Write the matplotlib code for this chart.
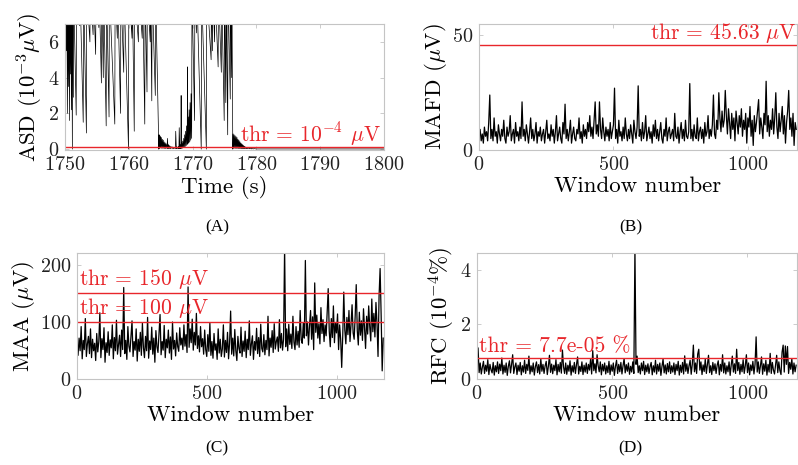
import numpy as np
import matplotlib
matplotlib.use("Agg")
import matplotlib.pyplot as plt

plt.rcParams["font.family"] = ["cmr10", "DejaVu Serif"]
plt.rcParams["mathtext.fontset"] = "cm"
plt.rcParams["axes.formatter.use_mathtext"] = True

# -- Data -------------------------------------------------------------------
# (A) ASD trace, units of 1e-3 uV (values above 7 run off the top)
asd_time = [
    1750.00, 1750.10, 1750.15, 1750.25, 1750.30, 1750.40, 1750.45, 1750.55, 1750.60, 1750.70,
    1750.75, 1750.85, 1750.90, 1751.00, 1751.05, 1751.15, 1751.20, 1751.30, 1751.35, 1751.75,
    1751.80, 1752.30, 1752.35, 1752.85, 1752.90, 1753.35, 1753.40, 1753.90, 1753.95, 1754.40,
    1754.45, 1754.80, 1754.85, 1755.30, 1755.35, 1755.70, 1755.75, 1756.00, 1756.05, 1756.45,
    1756.50, 1756.90, 1756.95, 1757.80, 1757.85, 1758.20, 1758.25, 1758.70, 1758.75, 1759.20,
    1759.25, 1759.95, 1760.00, 1760.50, 1760.55, 1760.85, 1760.90, 1761.50, 1761.55, 1762.10,
    1762.15, 1762.50, 1762.55, 1762.85, 1762.90, 1763.35, 1763.40, 1763.60, 1763.65, 1764.15,
    1764.20, 1764.70,
    1764.75, 1764.80, 1764.85, 1764.90, 1764.95, 1765.05, 1765.10, 1765.20, 1765.25, 1765.35,
    1765.40, 1765.50, 1765.55, 1765.65, 1765.70, 1765.80, 1765.85, 1766.00, 1766.05, 1766.15,
    1766.20, 1766.35, 1766.40, 1766.55, 1766.60, 1766.80, 1766.85, 1767.05, 1767.10, 1767.30,
    1767.35, 1767.45, 1767.50, 1767.70, 1767.75, 1767.85, 1767.90, 1768.00, 1768.05, 1768.15,
    1768.20, 1768.25, 1768.30, 1768.40, 1768.45, 1768.55, 1768.60, 1768.70, 1768.75, 1768.85,
    1768.90, 1769.00, 1769.05, 1769.15, 1769.20, 1769.25, 1769.30, 1769.40, 1769.45, 1769.55,
    1769.60, 1769.70, 1769.75, 1769.85, 1769.90,
    1770.30, 1770.35, 1770.60, 1770.65, 1771.35, 1771.40, 1772.15, 1772.20, 1772.90, 1772.95,
    1773.10, 1773.15, 1773.45, 1773.50, 1774.00, 1774.05, 1774.50, 1774.55, 1774.95, 1775.00,
    1775.20, 1775.25, 1775.50, 1775.55, 1775.90, 1775.95, 1776.10, 1776.15, 1776.30,
    1776.35, 1776.45, 1776.50, 1776.60, 1776.65, 1776.75, 1776.80, 1776.90, 1776.95, 1777.05,
    1777.10, 1777.20, 1777.25, 1777.35, 1777.40, 1777.50, 1777.55, 1777.65, 1777.70, 1777.80,
    1777.85, 1777.95, 1778.00, 1778.10, 1778.15, 1778.25, 1778.30, 1778.45, 1778.50, 1778.65,
    1778.70, 1778.90, 1778.95, 1779.20, 1779.25, 1779.50, 1779.60, 1780.00, 1800.00,
]
asd_value = [
    9, 2.4, 9, 5.5, 9, 2.0, 9, 3.5, 9, 1.6,
    9, 4.2, 9, 2.2, 9, 0.0, 9, 2.9, 9, 1.9,
    9, 6.9, 9, 1.5, 9, 0.9, 9, 6.0, 9, 6.4,
    9, 5.3, 9, 6.8, 9, 3.7, 9, 4.0, 9, 1.3,
    9, 1.8, 9, 1.4, 9, 6.2, 9, 2.0, 9, 4.3,
    9, 0.0, 9, 6.2, 9, 1.0, 9, 6.0, 9, 6.2,
    9, 1.4, 9, 3.2, 9, 6.0, 9, 2.7, 9, 3.0,
    9, 0.0,
    0.8, 0.05, 0.75, 0.1, 0.7, 0.05, 0.65, 0.05, 0.55, 0.05,
    0.5, 0.05, 0.4, 0.03, 0.35, 0.03, 0.3, 0.03, 0.6, 0.02,
    0.25, 0.02, 0.2, 0.02, 0.15, 0.02, 0.12, 0.02, 0.1, 0.02,
    1.0, 0.02, 0.12, 0.02, 0.15, 0.02, 1.2, 0.03, 0.25, 0.03,
    3.0, 0.05, 0.35, 0.05, 0.45, 0.08, 0.6, 0.1, 0.8, 0.15,
    1.0, 0.2, 1.3, 0.25, 4.6, 0.3, 1.8, 0.35, 2.2, 0.4,
    2.6, 0.5, 3.1, 0.6, 9,
    1.6, 9, 6.5, 9, 0.0, 9, 0.0, 9, 5.0, 9,
    5.5, 9, 6.0, 9, 4.6, 9, 4.3, 9, 1.6, 9,
    2.6, 9, 0.8, 9, 2.8, 9, 4.0, 9, 0.0,
    0.85, 0.05, 0.8, 0.05, 0.75, 0.04, 0.7, 0.04, 0.65, 0.04,
    0.55, 0.03, 0.5, 0.03, 0.42, 0.03, 0.35, 0.02, 0.3, 0.02,
    0.25, 0.02, 0.2, 0.02, 0.16, 0.02, 0.12, 0.02, 0.1, 0.02,
    0.08, 0.02, 0.06, 0.01, 0.05, 0.01, 0.03, 0.01, 0.01,
]
asd_thr = 0.1

# windows are sampled every 4th window
window_step = 4

# (B) MAFD, uV
mafd = [
    6, 9, 4, 7, 3, 10, 6, 8, 4, 12, 24, 5, 9, 4, 14, 6, 8, 3, 11, 7,
    4, 9, 6, 13, 5, 3, 10, 6, 8, 15, 4, 7, 9, 3, 12, 6, 8, 4, 10, 5,
    21, 6, 9, 4, 11, 7, 3, 8, 14, 5, 9, 4, 7, 12, 3, 8, 6, 10, 4, 7,
    9, 3, 8, 13, 5, 7, 4, 11, 6, 9, 3, 8, 15, 4, 7, 10, 5, 3, 12, 7,
    20, 5, 9, 4, 8, 13, 3, 7, 10, 5, 4, 9, 7, 14, 5, 8, 3, 11, 6, 9,
    5, 12, 8, 15, 6, 10, 5, 13, 21, 7, 11, 6, 21, 9, 5, 14, 8, 4, 10, 6,
    9, 4, 12, 5, 8, 11, 27, 5, 9, 3, 13, 6, 8, 4, 10, 5, 14, 7, 4, 9,
    5, 11, 7, 3, 13, 8, 5, 10, 28, 6, 9, 4, 12, 5, 8, 15, 4, 7, 10, 5,
    8, 3, 11, 6, 13, 5, 9, 4, 8, 12, 5, 3, 9, 6, 14, 4, 8, 10, 5, 7,
    9, 4, 16, 6, 5, 10, 3, 8, 12, 5, 9, 4, 13, 6, 5, 8, 29, 5, 9, 4,
    11, 6, 5, 14, 4, 8, 10, 5, 9, 3, 12, 6, 8, 15, 5, 9, 6, 11, 24, 7,
    5, 13, 9, 25, 14, 8, 17, 10, 13, 26, 15, 7, 18, 12, 5, 16, 9, 14, 4, 17,
    12, 7, 15, 10, 18, 6, 13, 9, 16, 3, 14, 10, 19, 6, 13, 2, 15, 8, 12, 17,
    22, 7, 14, 10, 5, 16, 11, 30, 8, 15, 6, 13, 9, 18, 7, 14, 25, 10, 5, 16,
    8, 13, 19, 7, 15, 3, 12, 17, 26, 9, 14, 6, 16, 2, 12, 9,
]
mafd_thr = 45.63

# (C) MAA, uV
maa = [
    65, 42, 72, 50, 92, 36, 68, 52, 106, 40, 62, 75, 45, 88, 38, 70, 50, 63, 33, 80,
    48, 66, 116, 38, 71, 52, 90, 30, 64, 47, 83, 42, 69, 55, 95, 36, 73, 50, 103, 44,
    61, 77, 40, 86, 52, 160, 45, 68, 35, 92, 58, 48, 74, 102, 40, 66, 51, 88, 32, 70,
    49, 82, 42, 98, 55, 38, 75, 50, 108, 37, 67, 52, 91, 44, 72, 30, 85, 57, 47, 79,
    113, 43, 66, 51, 94, 38, 70, 55, 86, 46, 74, 35, 100, 53, 68, 41, 81, 57, 49, 90,
    60, 72, 52, 95, 58, 78, 47, 161, 56, 88, 64, 105, 51, 82, 60, 115, 54, 76, 48, 92,
    57, 71, 44, 86, 52, 40, 78, 49, 98, 42, 66, 37, 80, 51, 62, 35, 88, 46, 70, 40,
    53, 95, 39, 68, 47, 82, 36, 64, 119, 44, 72, 41, 87, 50, 33, 75, 54, 46, 91, 40,
    67, 49, 84, 38, 70, 52, 102, 42, 62, 76, 35, 66, 51, 89, 45, 73, 40, 96, 54, 48,
    78, 43, 68, 52, 110, 41, 72, 56, 85, 47, 97, 53, 66, 74, 49, 104, 55, 80, 51, 70,
    230, 57, 88, 50, 96, 61, 79, 54, 110, 65, 52, 92, 60, 84, 56, 120, 69, 63, 98, 72,
    207, 76, 100, 60, 94, 120, 70, 109, 52, 168, 82, 112, 72, 97, 62, 125, 80, 104, 66, 95,
    76, 118, 158, 84, 57, 106, 73, 128, 64, 99, 81, 114, 52, 95, 70, 21, 76, 152, 86, 62,
    108, 78, 120, 66, 96, 130, 81, 70, 111, 165, 85, 60, 117, 77, 102, 68, 123, 88, 54, 110,
    79, 128, 92, 67, 140, 83, 115, 74, 134, 97, 40, 145, 193, 112, 15, 72,
]
maa_thr = [150, 100]

# (D) RFC, units of 1e-4 %
rfc = [
    0.5, 1.15, 0.25, 0.6, 0.2, 0.45, 0.66, 0.22, 0.52, 0.3, 0.72, 0.18, 0.55, 0.35, 0.24, 0.62, 0.16, 0.5, 0.28, 0.64,
    0.22, 0.56, 0.32, 0.78, 0.2, 0.52, 0.26, 0.6, 0.15, 0.48, 0.68, 0.24, 0.55, 0.9, 0.22, 0.46, 0.6, 0.18, 0.52, 0.3,
    0.62, 0.17, 0.5, 0.27, 0.7, 0.22, 0.55, 0.33, 0.85, 0.2, 0.5, 0.28, 0.6, 0.16, 0.47, 0.64, 0.25, 0.54, 0.2, 0.75,
    0.3, 0.55, 0.22, 0.5, 0.66, 0.18, 0.48, 0.88, 0.26, 0.56, 0.21, 0.52, 0.32, 0.72, 0.17, 0.55, 0.28, 0.62, 0.23, 1.07,
    0.46, 0.22, 0.6, 0.19, 0.52, 0.3, 0.68, 0.16, 0.5, 0.27, 0.62, 0.22, 0.55, 0.82, 0.2, 0.48, 0.29, 0.64, 0.18, 0.52,
    0.27, 0.6, 0.22, 0.55, 0.34, 0.74, 0.2, 1.05, 0.32, 0.57, 0.24, 0.9, 0.5, 0.28, 0.64, 0.17, 0.55, 0.31, 0.6, 0.2,
    0.5, 0.25, 0.66, 0.18, 0.53, 0.3, 0.6, 0.15, 0.48, 0.7, 0.22, 0.55, 0.28, 0.62, 0.2, 0.5, 0.76, 0.24, 0.54, 0.3,
    0.6, 0.19, 0.48, 0.27, 0.64, 0.22, 4.8, 0.55, 0.85, 0.25, 0.5, 0.2, 0.6, 0.32, 0.66, 0.18, 0.52, 0.28, 0.57, 0.22,
    0.47, 0.62, 0.17, 0.5, 0.27, 0.7, 0.2, 0.55, 0.3, 0.6, 0.15, 0.48, 0.74, 0.24, 0.53, 0.2, 0.58, 0.28, 0.64, 0.22,
    0.5, 0.27, 0.6, 0.18, 0.55, 0.32, 0.66, 0.16, 0.52, 0.26, 0.62, 0.2, 0.86, 0.3, 0.57, 0.22, 0.5, 0.7, 0.19, 0.55,
    1.25, 0.28, 0.6, 0.22, 0.92, 1.1, 0.34, 0.64, 0.18, 0.53, 0.29, 0.74, 0.22, 0.55, 0.88, 0.25, 0.5, 0.18, 0.62, 0.32,
    0.57, 0.22, 0.52, 0.68, 0.17, 0.55, 0.3, 0.9, 0.24, 0.6, 0.2, 0.5, 0.28, 0.64, 0.15, 0.53, 0.85, 0.27, 0.57, 0.22,
    1.1, 0.32, 0.62, 0.19, 0.55, 0.28, 0.72, 0.22, 0.5, 0.9, 0.25, 0.6, 0.17, 0.53, 0.32, 0.66, 0.2, 0.55, 1.55, 0.27,
    0.64, 0.22, 0.5, 0.82, 0.19, 0.57, 0.3, 0.7, 0.16, 0.55, 0.27, 0.95, 0.22, 0.62, 0.34, 0.2, 0.55, 0.88, 0.25, 0.64,
    0.32, 0.18, 1.0, 1.25, 0.27, 1.22, 0.55, 1.2, 0.22, 0.62, 0.37, 0.76, 0.2, 0.6, 0.28, 0.52,
]
rfc_thr = 0.77

# -- Styling ------------------------------------------------------------------
RED = "#e8262b"
FRAME = "#c4c4c4"
TICK_FS = 14.5
LABEL_FS = 16.5
THR_FS = 15.5
LW = 0.9


def style_axes(ax):
    for s in ax.spines.values():
        s.set_color(FRAME)
        s.set_linewidth(0.8)
    ax.tick_params(direction="in", length=3, width=0.6, color=FRAME,
                   labelsize=TICK_FS, labelcolor="#222222", pad=4,
                   top=True, right=True)


fig = plt.figure(figsize=(7.98, 4.65), dpi=100)

# (A)
ax = fig.add_axes([0.0815, 0.6774, 0.3997, 0.271])
ax.plot(asd_time, asd_value, color="k", lw=0.5)
ax.axhline(asd_thr, color=RED, lw=1.0)
ax.set_xlim(1750, 1800)
ax.set_ylim(-0.05, 7)
ax.set_xticks([1750, 1760, 1770, 1780, 1790, 1800])
ax.set_yticks([0, 2, 4, 6])
ax.text(1799.5, 0.45, r"thr = $10^{-4}$ $\mu$V", color=RED, fontsize=THR_FS,
        ha="right", va="baseline")
ax.set_xlabel("Time (s)", fontsize=LABEL_FS, labelpad=2)
ax.set_ylabel(r"ASD ($10^{-3}\mu$V)", fontsize=LABEL_FS, labelpad=2)
style_axes(ax)

# (B)
window = np.arange(len(mafd)) * window_step
ax = fig.add_axes([0.6003, 0.6774, 0.3985, 0.271])
ax.plot(window, mafd, color="k", lw=LW)
ax.axhline(mafd_thr, color=RED, lw=1.0)
ax.set_xlim(0, 1183)
ax.set_ylim(0, 55)
ax.set_xticks([0, 500, 1000])
ax.set_yticks([0, 50])
ax.text(1180, 48.5, r"thr = 45.63 $\mu$V", color=RED, fontsize=THR_FS,
        ha="right", va="baseline")
ax.set_xlabel("Window number", fontsize=LABEL_FS, labelpad=2)
ax.set_ylabel(r"MAFD ($\mu$V)", fontsize=LABEL_FS, labelpad=2)
style_axes(ax)

# (C)
window = np.arange(len(maa)) * window_step
ax = fig.add_axes([0.0965, 0.1839, 0.3847, 0.272])
ax.plot(window, maa, color="k", lw=LW)
for thr in maa_thr:
    ax.axhline(thr, color=RED, lw=1.0)
    ax.text(8, thr + 14, r"thr = %d $\mu$V" % thr, color=RED, fontsize=THR_FS,
            ha="left", va="baseline")
ax.set_xlim(0, 1183)
ax.set_ylim(0, 220)
ax.set_xticks([0, 500, 1000])
ax.set_yticks([0, 100, 200])
ax.set_xlabel("Window number", fontsize=LABEL_FS, labelpad=2)
ax.set_ylabel(r"MAA ($\mu$V)", fontsize=LABEL_FS, labelpad=2)
style_axes(ax)

# (D)
window = np.arange(len(rfc)) * window_step
ax = fig.add_axes([0.5977, 0.1839, 0.401, 0.272])
ax.plot(window, rfc, color="k", lw=LW)
ax.axhline(rfc_thr, color=RED, lw=1.0)
ax.set_xlim(0, 1183)
ax.set_ylim(0, 4.6)
ax.set_xticks([0, 500, 1000])
ax.set_yticks([0, 2, 4])
ax.text(8, 1.0, "thr = 7.7e-05 %", color=RED, fontsize=THR_FS,
        ha="left", va="baseline")
ax.set_xlabel("Window number", fontsize=LABEL_FS, labelpad=2)
ax.set_ylabel(r"RFC ($10^{-4}$%)", fontsize=LABEL_FS, labelpad=2)
style_axes(ax)

# sub-figure captions
for x, y, lab in [(0.272, 0.512, "(A)"), (0.79, 0.512, "(B)"),
                  (0.272, 0.036, "(C)"), (0.79, 0.036, "(D)")]:
    fig.text(x, y, lab, family="Liberation Serif", fontsize=12.5,
             ha="center", va="center")

fig.savefig("out.png", dpi=100)
